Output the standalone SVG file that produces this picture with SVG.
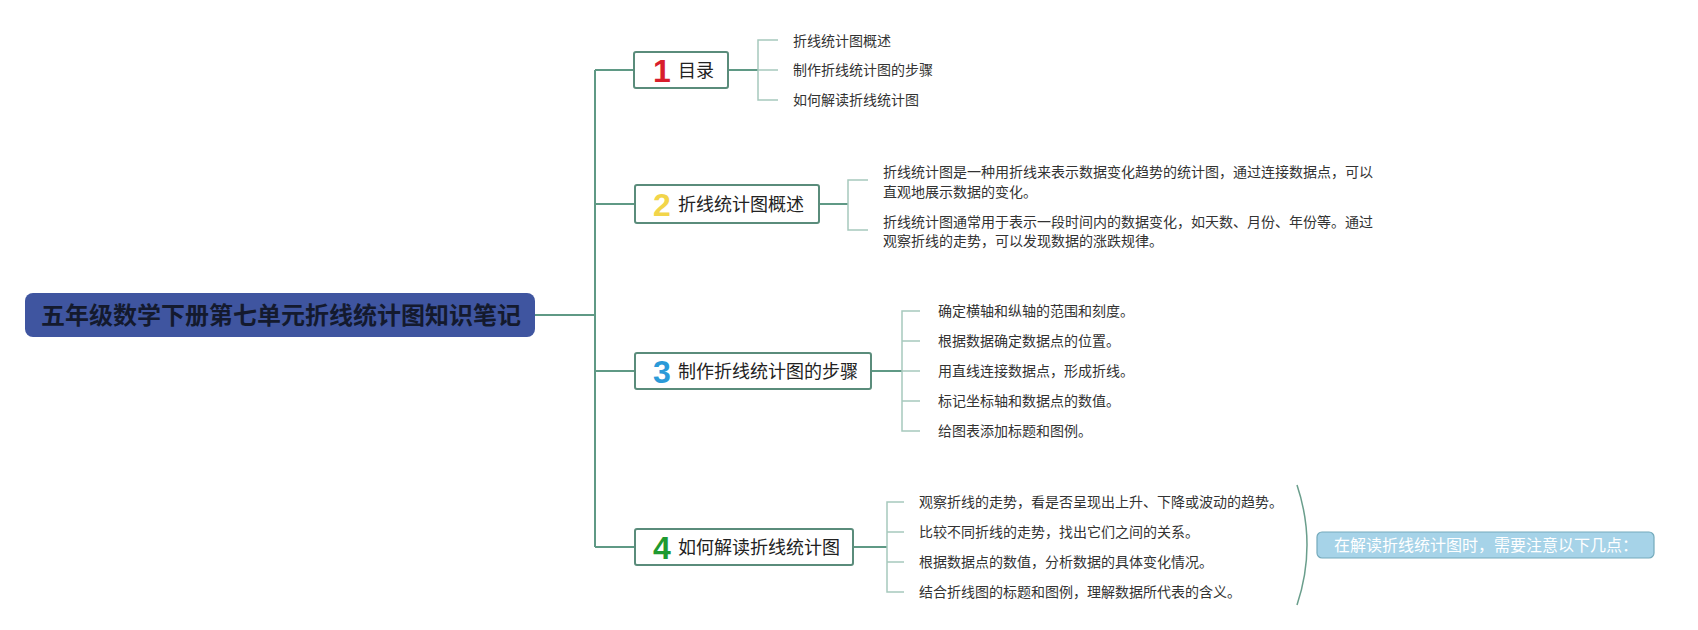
<svg xmlns="http://www.w3.org/2000/svg" width="1698" height="630" viewBox="0 0 1698 630">
<style>
.dark{stroke:#5f9985;stroke-width:2;fill:none}
.light{stroke:#a7c9bd;stroke-width:1.5;fill:none}
.box{fill:#ffffff;stroke:#5a8c7b;stroke-width:2}
.lbl{font-family:"Noto Sans CJK SC","Noto Sans",sans-serif;font-size:18px;fill:#222}
.num{font-family:"Liberation Sans","DejaVu Sans",sans-serif;font-size:32px;font-weight:bold;text-anchor:middle}
.child{font-family:"Noto Sans CJK SC","Noto Sans",sans-serif;font-size:14px;fill:#333}
</style>
<rect width="1698" height="630" fill="#ffffff"/>
<g id="connectors">
<path class="dark" d="M535,315 H595 M595,70 V547 M595,70 H634 M595,204 H635 M595,371 H635 M595,547 H635"/>
<path class="dark" d="M728,70 H758 M819,204 H848 M871,371 H902 M853,547 H887"/>
<path class="light" d="M778,40 H758 V100 H778 M758,70 H778"/>
<path class="light" d="M868,180 H848 V230 H868"/>
<path class="light" d="M920,311 H902 V431 H920 M902,341 H920 M902,371 H920 M902,401 H920"/>
<path class="light" d="M904,502 H887 V592 H904 M887,532 H904 M887,562 H904"/>
<path d="M1297,485 Q1317,545 1297,605" stroke="#6a9e8c" stroke-width="1.5" fill="none"/>
</g>
<g id="root">
<rect x="25" y="293" width="510" height="44" rx="8" fill="#3f55a0"/>
<text x="281" y="323.5" text-anchor="middle" font-family="Noto Sans CJK SC,sans-serif" font-size="24" font-weight="bold" fill="#141a2e">五年级数学下册第七单元折线统计图知识笔记</text>
</g>
<g id="node1">
<rect class="box" x="634" y="52" width="94" height="36" rx="2"/>
<text class="num" x="662" y="82" fill="#d81e2c">1</text>
<text class="lbl" x="678" y="76.5">目录</text>
</g>
<g id="node1-children">
<text class="child" x="793" y="46">折线统计图概述</text>
<text class="child" x="793" y="75">制作折线统计图的步骤</text>
<text class="child" x="793" y="105">如何解读折线统计图</text>
</g>
<g id="node2">
<rect class="box" x="635" y="185" width="184" height="38" rx="2"/>
<text class="num" x="662" y="216" fill="#f2d54a">2</text>
<text class="lbl" x="678" y="210.5">折线统计图概述</text>
</g>
<g id="node2-children">
<text class="child" x="883" y="177">折线统计图是一种用折线来表示数据变化趋势的统计图，通过连接数据点，可以</text>
<text class="child" x="883" y="197">直观地展示数据的变化。</text>
<text class="child" x="883" y="227">折线统计图通常用于表示一段时间内的数据变化，如天数、月份、年份等。通过</text>
<text class="child" x="883" y="246">观察折线的走势，可以发现数据的涨跌规律。</text>
</g>
<g id="node3">
<rect class="box" x="635" y="353" width="236" height="36" rx="2"/>
<text class="num" x="662" y="383" fill="#2b9ad8">3</text>
<text class="lbl" x="678" y="377.5">制作折线统计图的步骤</text>
</g>
<g id="node3-children">
<text class="child" x="938" y="316">确定横轴和纵轴的范围和刻度。</text>
<text class="child" x="938" y="346">根据数据确定数据点的位置。</text>
<text class="child" x="938" y="376">用直线连接数据点，形成折线。</text>
<text class="child" x="938" y="406">标记坐标轴和数据点的数值。</text>
<text class="child" x="938" y="436">给图表添加标题和图例。</text>
</g>
<g id="node4">
<rect class="box" x="635" y="529" width="218" height="36" rx="2"/>
<text class="num" x="662" y="559" fill="#1f9a30">4</text>
<text class="lbl" x="678" y="553.5">如何解读折线统计图</text>
</g>
<g id="node4-children">
<text class="child" x="919" y="507">观察折线的走势，看是否呈现出上升、下降或波动的趋势。</text>
<text class="child" x="919" y="537">比较不同折线的走势，找出它们之间的关系。</text>
<text class="child" x="919" y="567">根据数据点的数值，分析数据的具体变化情况。</text>
<text class="child" x="919" y="597">结合折线图的标题和图例，理解数据所代表的含义。</text>
</g>
<g id="summary">
<rect x="1317" y="532" width="337" height="26" rx="5" fill="#a6d3e8" stroke="#74aabb" stroke-width="1.2"/>
<text x="1334" y="551" font-family="Noto Sans CJK SC,sans-serif" font-size="16" fill="#ffffff">在解读折线统计图时，需要注意以下几点：</text>
</g>
</svg>
